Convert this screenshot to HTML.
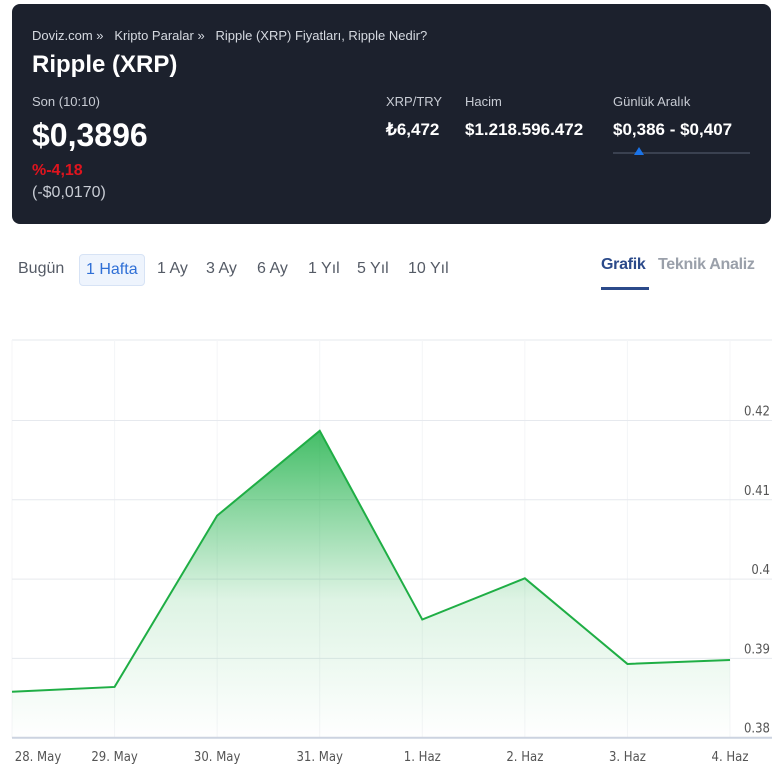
<!DOCTYPE html>
<html><head><meta charset="utf-8"><style>
*{box-sizing:border-box;margin:0;padding:0}
body{width:780px;height:772px;background:#fff;font-family:"Liberation Sans",sans-serif;position:relative;overflow:hidden}
.card{position:absolute;left:12px;top:4px;width:759px;height:220px;background:#1c212d;border-radius:8px;color:#fff}
.abs{position:absolute;white-space:nowrap}
.tab{position:absolute;top:260px;font-size:16px;color:#555b66}
</style></head><body>
<div class="card">
<div class="abs" style="left:20px;top:24px;font-size:13px;color:#d5d9e0">Doviz.com »&nbsp;&nbsp; Kripto Paralar »&nbsp;&nbsp; Ripple (XRP) Fiyatları, Ripple Nedir?</div>
<div class="abs" style="left:20px;top:47px;font-size:24px;font-weight:bold">Ripple (XRP)</div>
<div class="abs" style="left:20px;top:90px;font-size:13px;color:#c8ccd4">Son (10:10)</div>
<div class="abs" style="left:20px;top:113px;font-size:32px;font-weight:bold">$0,3896</div>
<div class="abs" style="left:20px;top:158px;font-size:16px;font-weight:bold;color:#e0141e">%-4,18</div>
<div class="abs" style="left:20px;top:180px;font-size:16px;color:#c8ccd4">(-$0,0170)</div>
<div class="abs" style="left:374px;top:90px;font-size:13px;color:#c8ccd4">XRP/TRY</div>
<div class="abs" style="left:374px;top:116px;font-size:17px;font-weight:bold">₺6,472</div>
<div class="abs" style="left:453px;top:90px;font-size:13px;color:#c8ccd4">Hacim</div>
<div class="abs" style="left:453px;top:116px;font-size:17px;font-weight:bold">$1.218.596.472</div>
<div class="abs" style="left:601px;top:90px;font-size:13px;color:#c8ccd4">Günlük Aralık</div>
<div class="abs" style="left:601px;top:116px;font-size:17px;font-weight:bold">$0,386 - $0,407</div>
<div class="abs" style="left:601px;top:148px;width:137px;height:2px;background:#3a4150"></div>
<div class="abs" style="left:622px;top:143px;width:0;height:0;border-left:5px solid transparent;border-right:5px solid transparent;border-bottom:8px solid #1a73e8"></div>
</div>
<div class="tab" style="left:18px">Bugün</div>
<div class="tab" style="left:79px;top:254px;padding:6px 6px;border:1px solid #d7e3f5;background:#eef4fd;border-radius:4px;color:#2f6fd6">1 Hafta</div>
<div class="tab" style="left:157px">1 Ay</div>
<div class="tab" style="left:206px">3 Ay</div>
<div class="tab" style="left:257px">6 Ay</div>
<div class="tab" style="left:308px">1 Yıl</div>
<div class="tab" style="left:357px">5 Yıl</div>
<div class="tab" style="left:408px">10 Yıl</div>
<div class="abs" style="left:601px;top:256px;font-size:16px;font-weight:bold;color:#2b4a8a;letter-spacing:-0.3px">Grafik</div>
<div class="abs" style="left:601px;top:287px;width:48px;height:3px;background:#2b4a8a"></div>
<div class="abs" style="left:658px;top:256px;font-size:16px;font-weight:bold;color:#9aa0aa;letter-spacing:-0.3px">Teknik Analiz</div>
<svg id="chart" class="abs" style="left:0;top:0" width="780" height="772"></svg>
<script>
const categories=["28. May","29. May","30. May","31. May","1. Haz","2. Haz","3. Haz","4. Haz"];
const prices=[0.3858,0.3864,0.4080,0.4187,0.3949,0.4001,0.3893,0.3898];
const yTicks=[0.38,0.39,0.40,0.41,0.42];
const yTickLabels=["0.38","0.39","0.4","0.41","0.42"];
const NS="http://www.w3.org/2000/svg";
const svg=document.getElementById('chart');
const x0=12,x1=730,yBase=737.7,pxPer=7930;
const xs=i=>x0+i*(x1-x0)/(categories.length-1);
const ys=v=>yBase-(v-0.38)*pxPer;
function mk(t,a){const e=document.createElementNS(NS,t);for(const k in a)e.setAttribute(k,a[k]);svg.appendChild(e);return e;}
const defs=mk('defs',{});
defs.innerHTML='<linearGradient id="g" gradientUnits="userSpaceOnUse" x1="0" y1="430" x2="0" y2="738"><stop offset="0" stop-color="#22b24c" stop-opacity="0.85"/><stop offset="0.55" stop-color="#22b24c" stop-opacity="0.15"/><stop offset="1" stop-color="#22b24c" stop-opacity="0"/></linearGradient>';
let l=mk('line',{x1:12,x2:772,y1:340,y2:340,stroke:'#e6e9ee','stroke-width':1});

categories.forEach((c,i)=>{
 const v=mk('line',{x1:xs(i),x2:xs(i),y1:340,y2:738,stroke:'#f4f5f7','stroke-width':1});
 
 const t=mk('text',{x:Math.min(xs(i),745)+(i==0?26:0),y:761,'text-anchor':'middle','font-size':13,fill:'#555','font-family':'DejaVu Sans Condensed, DejaVu Sans, sans-serif'});
 t.textContent=c;
});
yTicks.forEach((v,i)=>{
 const g=mk('line',{x1:12,x2:772,y1:ys(v),y2:ys(v),stroke:i==0?'#ccd3e0':'#e6e9ee','stroke-width':i==0?2:1});
 
 const t=mk('text',{x:770,y:ys(v)-5,'text-anchor':'end','font-size':13,fill:'#555','font-family':'DejaVu Sans Condensed, DejaVu Sans, sans-serif'});
 t.textContent=yTickLabels[i];
});
const pts=prices.map((p,i)=>xs(i)+','+ys(p)).join(' ');
const area=mk('polygon',{points:x0+','+yBase+' '+pts+' '+x1+','+yBase,fill:'url(#g)'});

const line=mk('polyline',{points:pts,fill:'none',stroke:'#1fae45','stroke-width':2});

</script>
</body></html>
